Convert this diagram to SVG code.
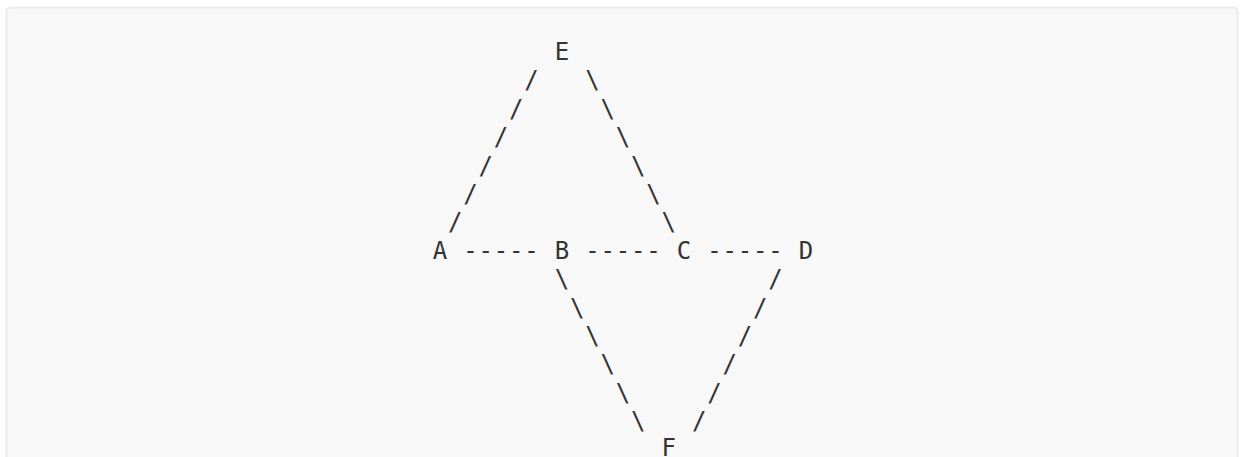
<svg xmlns="http://www.w3.org/2000/svg" width="1240" height="457" viewBox="0 0 1240 457">
<style>
.t{font-family:"DejaVu Sans Mono","Liberation Mono",monospace;font-size:24px;fill:#333;text-anchor:middle}
</style>
<rect x="0" y="0" width="1240" height="457" fill="#ffffff"/>
<rect x="6.5" y="7.5" width="1231" height="470" rx="4" fill="#f8f8f8" stroke="#ececec" stroke-width="2"/>
<g id="connectors" class="t">
<text x="531.5,592.5" y="88.4">/\</text>
<text x="516.25,607.75" y="116.8">/\</text>
<text x="501,623" y="145.2">/\</text>
<text x="485.75,638.25" y="173.6">/\</text>
<text x="470.5,653.5" y="202">/\</text>
<text x="455.25,668.75" y="230.4">/\</text>
<text x="470.5,485.75,501,516.25,531.5" y="258.8">-----</text>
<text x="592.5,607.75,623,638.25,653.5" y="258.8">-----</text>
<text x="714.5,729.75,745,760.25,775.5" y="258.8">-----</text>
<text x="562,775.5" y="287.2">\/</text>
<text x="577.25,760.25" y="315.6">\/</text>
<text x="592.5,745" y="344">\/</text>
<text x="607.75,729.75" y="372.4">\/</text>
<text x="623,714.5" y="400.8">\/</text>
<text x="638.25,699.25" y="429.2">\/</text>
</g>
<g id="node-E" class="t"><text x="562" y="60">E</text></g>
<g id="node-A" class="t"><text x="440" y="258.8">A</text></g>
<g id="node-B" class="t"><text x="562" y="258.8">B</text></g>
<g id="node-C" class="t"><text x="684" y="258.8">C</text></g>
<g id="node-D" class="t"><text x="806" y="258.8">D</text></g>
<g id="node-F" class="t"><text x="668.75" y="456">F</text></g>
</svg>
